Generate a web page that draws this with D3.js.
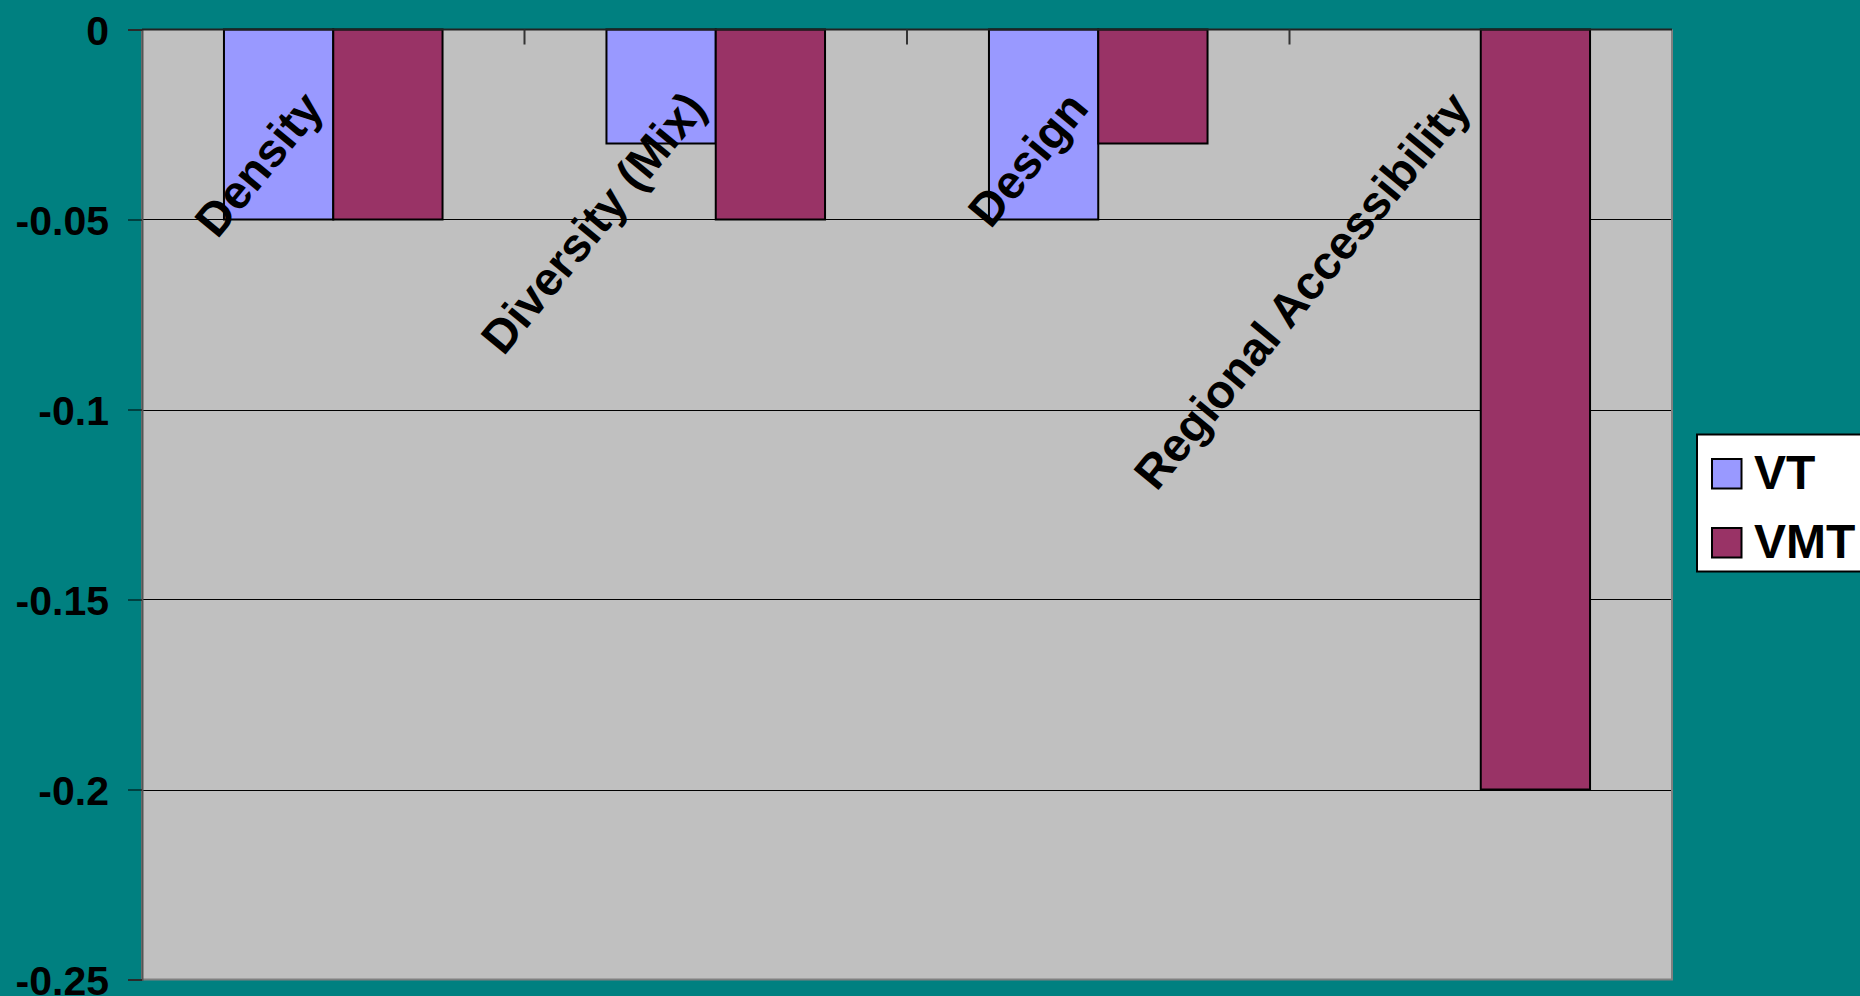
<!DOCTYPE html>
<html>
<head>
<meta charset="utf-8">
<script src="https://cdn.jsdelivr.net/npm/d3@7"></script>
<style>
html,body{margin:0;padding:0;background:#008080;overflow:hidden;}
svg{display:block;}
text{font-family:"Liberation Sans",Arial,sans-serif;font-weight:bold;fill:#000;}
</style>
</head>
<body>
<script>
const categories = ["Density", "Diversity (Mix)", "Design", "Regional Accessibility"];
const seriesNames = ["VT", "VMT"];
const vtValues = [-0.05, -0.03, -0.05, 0];
const vmtValues = [-0.05, -0.05, -0.03, -0.2];
const tickValues = [0, -0.05, -0.1, -0.15, -0.2, -0.25];
const tickLabels = ["0", "-0.05", "-0.1", "-0.15", "-0.2", "-0.25"];
const colors = ["#9999FF", "#993366"];

const W = 1860, H = 996;
const plot = {left: 142, right: 1672, top: 29.5, bottom: 979.5};

const svg = d3.select("body").append("svg").attr("width", W).attr("height", H);
svg.append("rect").attr("width", W).attr("height", H).attr("fill", "#008080");

const x0 = d3.scaleBand().domain(categories).range([plot.left, plot.right]).paddingInner(0).paddingOuter(0);
const x1 = d3.scaleBand().domain(seriesNames).range([0, x0.bandwidth()]).paddingInner(0).paddingOuter(0.75);
const y = d3.scaleLinear().domain([-0.25, 0]).range([plot.bottom, plot.top]);

// plot background
svg.append("rect")
  .attr("x", plot.left).attr("y", plot.top)
  .attr("width", plot.right - plot.left).attr("height", plot.bottom - plot.top)
  .attr("fill", "#C0C0C0");

// gridlines
svg.append("g").selectAll("line").data(tickValues.filter(d => d !== 0 && d !== -0.25)).join("line")
  .attr("x1", plot.left).attr("x2", plot.right)
  .attr("y1", d => Math.round(y(d)) + 0.5).attr("y2", d => Math.round(y(d)) + 0.5)
  .attr("stroke", "#000").attr("stroke-width", 1);

// plot border (right, bottom, left)
svg.append("path")
  .attr("d", `M${plot.left},${plot.top}V${plot.bottom}H${plot.right}V${plot.top}`)
  .attr("fill", "none").attr("stroke", "#808080").attr("stroke-width", 2);

// bars
const rows = categories.map((c, i) => ({cat: c, vals: [vtValues[i], vmtValues[i]]}));
const g = svg.append("g");
rows.forEach(r => {
  r.vals.forEach((v, j) => {
    g.append("rect")
      .attr("x", x0(r.cat) + x1(seriesNames[j]))
      .attr("y", y(0))
      .attr("width", x1.bandwidth())
      .attr("height", y(v) - y(0))
      .attr("fill", colors[j])
      .attr("stroke", "#000").attr("stroke-width", 2);
  });
});

// y axis
const yAxis = d3.axisLeft(y).tickValues(tickValues).tickFormat((d, i) => tickLabels[i]).tickSize(14).tickPadding(19);
const ya = svg.append("g").attr("transform", `translate(${plot.left},0)`).call(yAxis);
ya.select(".domain").attr("stroke", "#555").attr("stroke-width", 2);
ya.selectAll(".tick line").attr("stroke", "#000").attr("stroke-width", 1);
ya.selectAll(".tick text").style("font-size", "41px").style("font-family", "'Liberation Sans', Arial, sans-serif").style("font-weight", "bold").attr("fill", "#000").attr("dy", "0.36em");

// x axis at zero (top)
svg.append("line").attr("x1", plot.left).attr("x2", plot.right).attr("y1", y(0)).attr("y2", y(0))
  .attr("stroke", "#222").attr("stroke-width", 2);
svg.append("g").selectAll("line").data(categories.slice(1)).join("line")
  .attr("x1", d => x0(d)).attr("x2", d => x0(d))
  .attr("y1", y(0)).attr("y2", y(0) + 15)
  .attr("stroke", "#333").attr("stroke-width", 2);

// category labels
svg.append("g").selectAll("text").data(categories).join("text")
  .attr("transform", d => `translate(${x0(d) + x0.bandwidth() / 2 - 8},109) rotate(-50.5)`)
  .attr("text-anchor", "end")
  .style("font-size", "47px")
  .text(d => d);

// legend
const lg = svg.append("g");
lg.append("rect").attr("x", 1697).attr("y", 434.5).attr("width", 180).attr("height", 137)
  .attr("fill", "#fff").attr("stroke", "#000").attr("stroke-width", 2);
seriesNames.forEach((s, i) => {
  const base = 488.5 + i * 69;
  lg.append("rect").attr("x", 1712).attr("y", base - 29.5).attr("width", 29.5).attr("height", 29.5)
    .attr("fill", colors[i]).attr("stroke", "#000").attr("stroke-width", 2);
  lg.append("text").attr("x", 1754).attr("y", base).style("font-size", "48px").text(s);
});
</script>
</body>
</html>
